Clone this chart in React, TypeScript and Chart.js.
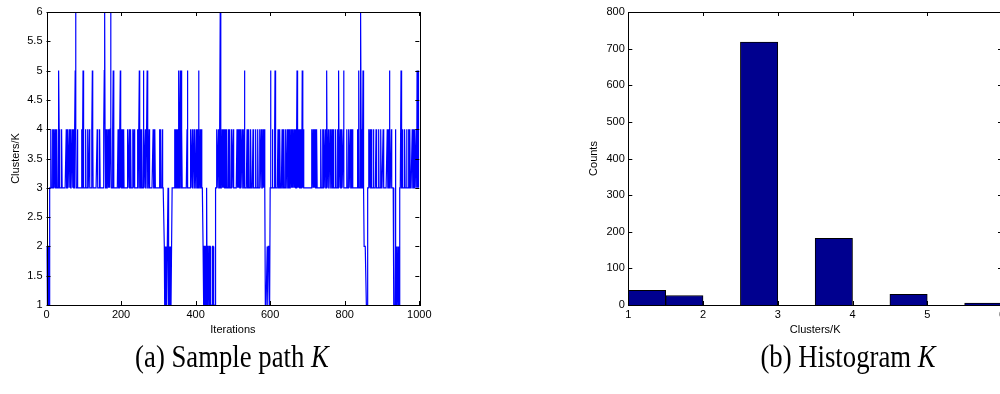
import React, { useEffect, useRef } from 'react';
import { Chart, registerables } from 'chart.js';

Chart.register(...registerables);

// Sample path of K, one digit per iteration (0..1000), written in blocks of 50 (groups of 10)
const traceBlocks: string[] = [
  '2211221113 3443334333 4334433343 3345433333 3433333333', // 0-49
  '3334333433 3433433334 3343334564 3334333333 3333433453', // 50-99
  '3333343333 4333343333 3345433333 3333334333 3344333333', // 100-149
  '3333456433 3433343343 3464333345 3333333333 3343333453', // 150-199
  '4333433433 3333333343 3343334333 3343344333 3333433335', // 200-249
  '3343334333 5433343333 5333343333 3333334333 4433333333', // 250-299
  '3334333433 3433332112 1211223212 2112111333 3333434334', // 300-349
  '3343353345 4354333333 3333333453 3333333433 3433334333', // 350-399
  '3343343453 3343334333 2122122113 3122221122 1111112211', // 400-449
  '1111333433 3433346433 3433433433 4334433343 3343334433', // 450-499
  '3433333333 3433433433 3433343333 4533333343 3334333343', // 500-549
  '3333433333 3433333433 3343334333 3433433111 1121122211', // 550-599
  '3533334333 3345333333 3433334333 3343333433 3433334333', // 600-649
  '4343334334 3433433433 3453343343 3433435434 3333333333', // 650-699
  '3333333333 3343343343 3433343333 3333334333 3433433343', // 700-749
  '3453334333 3433334333 4333334333 3434533343 3343334533', // 750-799
  '3333334333 3433343343 3433333333 3333343453 3346433345', // 800-849
  '3322222211 1133343343 3343333433 3333433333 3433333433', // 850-899
  '3334333333 3333433343 5333343333 3121114112 1112111333', // 900-949
  '3533343333 3433334333 3433343333 3433343343 33435335344', // 950-1000
];
const trace: number[] = traceBlocks.join('').replace(/\s/g, '').split('').map(Number);

const iterTicks = [0, 200, 400, 600, 800, 1000];
const kTicks = [1, 1.5, 2, 2.5, 3, 3.5, 4, 4.5, 5, 5.5, 6];

// Histogram of K (bins of width 0.5 between 1 and 6)
const histBinCenters = [1.25, 1.75, 2.25, 2.75, 3.25, 3.75, 4.25, 4.75, 5.25, 5.75];
const histCounts = [40, 26, 0, 718, 0, 182, 0, 29, 0, 5];
const histXTicks = [1, 2, 3, 4, 5, 6];
const countTicks = [0, 100, 200, 300, 400, 500, 600, 700, 800];

const FAMILY = "'Liberation Sans', Arial, sans-serif";
const TICK_SIZE = 11;
const TITLE_SIZE = 11;

const matlabFrame = {
  id: 'matlabFrame',
  afterDraw(chart: any) {
    const { ctx, chartArea: a, scales } = chart;
    const xs = scales.x;
    const ys = scales.y;
    const L = 4;
    ctx.save();
    ctx.strokeStyle = '#000';
    ctx.lineWidth = 1;
    ctx.beginPath();
    xs.ticks.forEach((t: any) => {
      const px = Math.round(xs.getPixelForValue(t.value)) + 0.5;
      ctx.moveTo(px, a.bottom);
      ctx.lineTo(px, a.bottom - L);
      ctx.moveTo(px, a.top);
      ctx.lineTo(px, a.top + L);
    });
    ys.ticks.forEach((t: any) => {
      const py = Math.round(ys.getPixelForValue(t.value)) + 0.5;
      ctx.moveTo(a.left, py);
      ctx.lineTo(a.left + L, py);
      ctx.moveTo(a.right, py);
      ctx.lineTo(a.right - L, py);
    });
    ctx.stroke();
    ctx.strokeRect(Math.round(a.left) + 0.5, Math.round(a.top) + 0.5, Math.round(a.right - a.left), Math.round(a.bottom - a.top));
    ctx.restore();
  },
};

function axisCommon(ticksArr: number[], min: number, max: number) {
  return {
    type: 'linear' as const,
    min,
    max,
    afterBuildTicks: (s: any) => {
      s.ticks = ticksArr.map((value) => ({ value }));
    },
    grid: { display: false, drawTicks: false, tickLength: 0 },
    border: { display: false },
  };
}

export default function App() {
  const leftRef = useRef<HTMLCanvasElement | null>(null);
  const rightRef = useRef<HTMLCanvasElement | null>(null);

  useEffect(() => {
    const left = new Chart(leftRef.current as HTMLCanvasElement, {
      type: 'line',
      data: {
        datasets: [
          {
            data: trace.map((v, i) => ({ x: i, y: v })),
            borderColor: '#0000ff',
            borderWidth: 1.2,
            pointRadius: 0,
            tension: 0,
            fill: false,
          },
        ],
      },
      options: {
        responsive: false,
        animation: false,
        events: [],
        layout: { padding: { top: 12, right: 16.7, bottom: 0, left: 0 } },
        plugins: { legend: { display: false }, tooltip: { enabled: false } },
        scales: {
          x: {
            ...axisCommon(iterTicks, 0, 1000),
            afterFit: (s: any) => {
              s.height = 40;
            },
            ticks: {
              padding: 3,
              color: '#000',
              font: { family: FAMILY, size: TICK_SIZE },
              maxRotation: 0,
              autoSkip: false,
              callback: (v: any) => String(v),
            },
            title: {
              display: true,
              text: 'Iterations',
              color: '#000',
              font: { family: FAMILY, size: TITLE_SIZE },
              padding: { top: 0, bottom: 8 },
            },
          },
          y: {
            ...axisCommon(kTicks, 1, 6),
            afterFit: (s: any) => {
              s.width = 46.5;
            },
            ticks: {
              padding: 4,
              color: '#000',
              font: { family: FAMILY, size: TICK_SIZE },
              autoSkip: false,
              callback: (v: any) => String(v),
            },
            title: {
              display: true,
              text: 'Clusters/K',
              color: '#000',
              font: { family: FAMILY, size: TITLE_SIZE },
              padding: { top: 9.2, bottom: 0 },
            },
          },
        },
      } as any,
      plugins: [matlabFrame],
    });

    const right = new Chart(rightRef.current as HTMLCanvasElement, {
      type: 'bar',
      data: {
        datasets: [
          {
            data: histBinCenters.map((x, i) => ({ x, y: histCounts[i] })),
            backgroundColor: '#00008f',
            borderColor: '#000',
            borderWidth: 1,
            barPercentage: 1,
            categoryPercentage: 1,
          },
        ],
      },
      options: {
        responsive: false,
        animation: false,
        events: [],
        layout: { padding: { top: 12, right: 17, bottom: 0, left: 0 } },
        plugins: { legend: { display: false }, tooltip: { enabled: false } },
        scales: {
          x: {
            ...axisCommon(histXTicks, 1, 6),
            offset: false,
            afterFit: (s: any) => {
              s.height = 40;
            },
            ticks: {
              padding: 3,
              color: '#000',
              font: { family: FAMILY, size: TICK_SIZE },
              maxRotation: 0,
              autoSkip: false,
              callback: (v: any) => String(v),
            },
            title: {
              display: true,
              text: 'Clusters/K',
              color: '#000',
              font: { family: FAMILY, size: TITLE_SIZE },
              padding: { top: 0, bottom: 8 },
            },
          },
          y: {
            ...axisCommon(countTicks, 0, 800),
            afterFit: (s: any) => {
              s.width = 68.3;
            },
            ticks: {
              padding: 3.5,
              color: '#000',
              font: { family: FAMILY, size: TICK_SIZE },
              autoSkip: false,
              callback: (v: any) => String(v),
            },
            title: {
              display: true,
              text: 'Counts',
              color: '#000',
              font: { family: FAMILY, size: TITLE_SIZE },
              padding: { top: 27.2, bottom: 0 },
            },
          },
        },
      } as any,
      plugins: [matlabFrame],
    });

    return () => {
      left.destroy();
      right.destroy();
    };
  }, []);

  const captionStyle: React.CSSProperties = {
    position: 'absolute',
    top: 341,
    width: 400,
    textAlign: 'center',
    fontFamily: "'Liberation Serif', 'Times New Roman', serif",
    fontSize: 27,
    lineHeight: '30px',
    color: '#000',
    whiteSpace: 'nowrap',
    transform: 'scale(0.99, 1.2)',
    transformOrigin: '50% 50%',
  };

  return (
    <div
      style={{
        position: 'fixed',
        left: 0,
        top: 0,
        width: 1000,
        height: 394,
        overflow: 'hidden',
        background: '#fff',
      }}
    >
      <canvas
        ref={leftRef}
        width={436}
        height={345}
        style={{ position: 'absolute', left: 0, top: 0, width: 436, height: 345 }}
      />
      <canvas
        ref={rightRef}
        width={459}
        height={345}
        style={{ position: 'absolute', left: 560, top: 0, width: 459, height: 345 }}
      />
      <div style={{ ...captionStyle, left: 232 - 200 }}>
        (a) Sample path <i>K</i>
      </div>
      <div style={{ ...captionStyle, left: 848 - 200 }}>
        (b) Histogram <i>K</i>
      </div>
    </div>
  );
}
